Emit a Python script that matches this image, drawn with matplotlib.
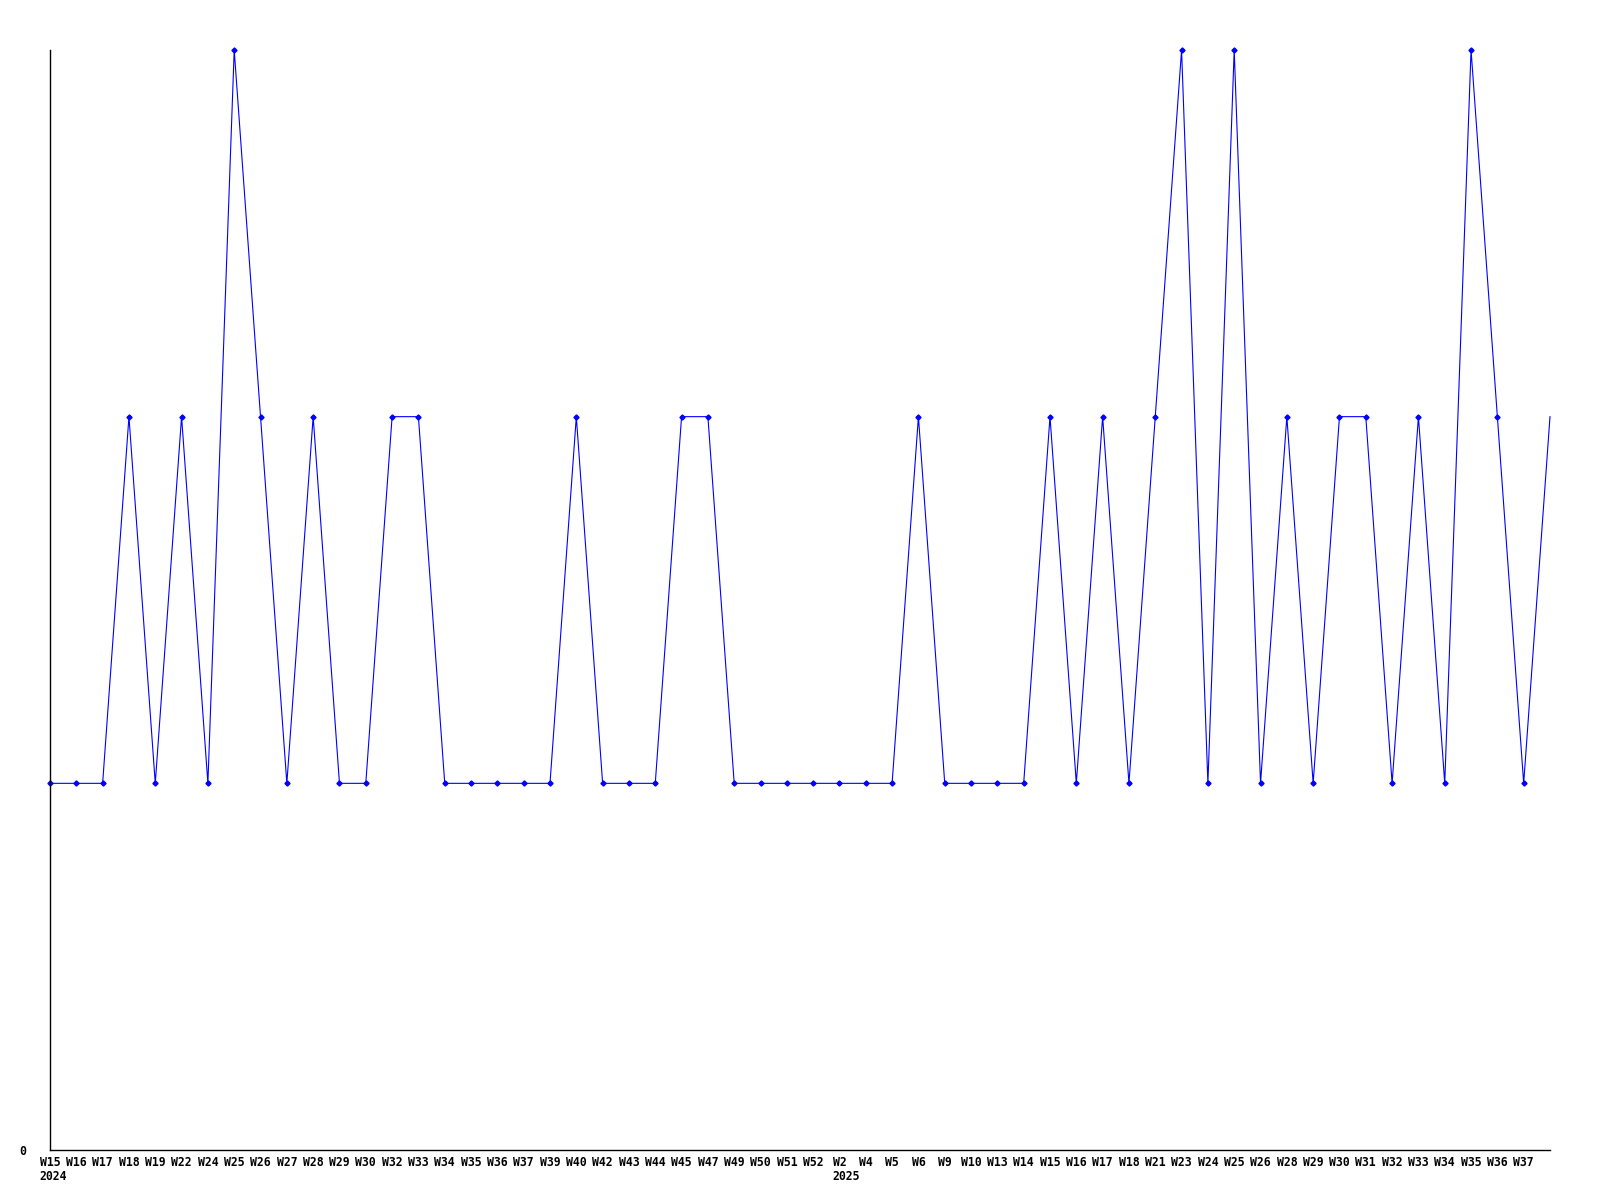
import matplotlib
matplotlib.use("Agg")
import matplotlib.pyplot as plt

week_labels = ["W15", "W16", "W17", "W18", "W19", "W22", "W24", "W25", "W26", "W27",
               "W28", "W29", "W30", "W32", "W33", "W34", "W35", "W36", "W37", "W39",
               "W40", "W42", "W43", "W44", "W45", "W47", "W49", "W50", "W51", "W52",
               "W2", "W4", "W5", "W6", "W9", "W10", "W13", "W14", "W15", "W16",
               "W17", "W18", "W21", "W23", "W24", "W25", "W26", "W28", "W29", "W30",
               "W31", "W32", "W33", "W34", "W35", "W36", "W37", ""]
values = [1, 1, 1, 2, 1, 2, 1, 3, 2, 1,
          2, 1, 1, 2, 2, 1, 1, 1, 1, 1,
          2, 1, 1, 1, 2, 2, 1, 1, 1, 1,
          1, 1, 1, 2, 1, 1, 1, 1, 2, 1,
          2, 1, 2, 3, 1, 3, 1, 2, 1, 2,
          2, 1, 2, 1, 3, 2, 1, 2]
year_marks = {0: "2024", 30: "2025"}

fig = plt.figure(figsize=(16, 12), dpi=100)
ax = fig.add_axes([50/1600, 1 - 1150/1200, 1500/1600, 1100/1200])

x = list(range(len(values)))
ax.plot(x, values, color="#0000ff", linewidth=0.8, clip_on=False)
ax.plot(x[:-1], values[:-1], linestyle="none", marker="D", markersize=2.6,
        color="#0000ff", clip_on=False)

ax.set_xlim(0, len(values) - 1)
ax.set_ylim(0, 3)
for s in ["top", "right"]:
    ax.spines[s].set_visible(False)
for s in ["left", "bottom"]:
    ax.spines[s].set_linewidth(1.0)
    ax.spines[s].set_color("black")

font = dict(family="DejaVu Sans Mono", weight="bold", size=8.3)
ax.set_xticks(x)
ax.set_xticklabels(week_labels, **font)
ax.tick_params(axis="x", length=0, pad=4)
ax.set_yticks([0])
ax.set_yticklabels(["0"], **font)
ax.tick_params(axis="y", length=0, pad=17)

char_w = 7.0
for i, yr in year_marks.items():
    off = -len(week_labels[i]) * char_w / 2
    ax.annotate(yr, xy=(i, 0), xycoords=("data", "axes fraction"),
                xytext=(off, -27), textcoords="offset pixels",
                ha="left", va="center", annotation_clip=False, **font)

fig.savefig("out.png", dpi=100, facecolor="white")
